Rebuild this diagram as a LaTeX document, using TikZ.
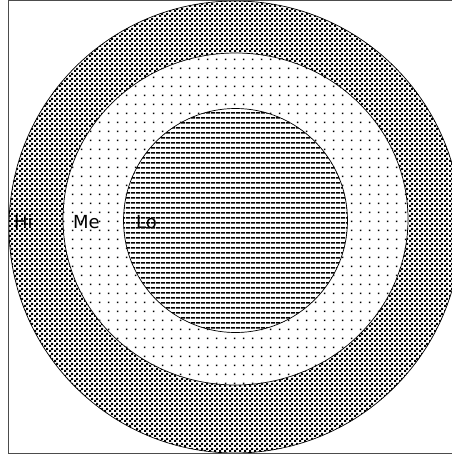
\documentclass[tikz,border=0pt]{standalone}
\usepackage{fontspec}
\setmainfont{DejaVu Sans}
\usetikzlibrary{patterns.meta}
\pgfdeclarepattern{name=chk, type=uncolored,
  bottom left={\pgfpoint{0pt}{0pt}}, top right={\pgfpoint{4.6pt}{4.6pt}},
  tile size={\pgfpoint{4.6pt}{4.6pt}},
  code={\pgfpathrectangle{\pgfpoint{0pt}{0pt}}{\pgfpoint{2.3pt}{2.3pt}}
        \pgfpathrectangle{\pgfpoint{2.3pt}{2.3pt}}{\pgfpoint{2.3pt}{2.3pt}}
        \pgfusepath{fill}}}
\pgfdeclarepattern{name=dotgrid, type=uncolored,
  bottom left={\pgfpoint{0pt}{0pt}}, top right={\pgfpoint{8.5pt}{8.5pt}},
  tile size={\pgfpoint{8.5pt}{8.5pt}},
  code={\pgfpathrectangle{\pgfpoint{4pt}{4pt}}{\pgfpoint{1.6pt}{1.6pt}}
        \pgfusepath{fill}}}
\pgfdeclarepattern{name=hlines, type=uncolored,
  bottom left={\pgfpoint{0pt}{0pt}}, top right={\pgfpoint{4.5pt}{4.5pt}},
  tile size={\pgfpoint{4.5pt}{4.5pt}},
  code={\pgfpathrectangle{\pgfpoint{0pt}{1.5pt}}{\pgfpoint{4.5pt}{1.6pt}}
        \pgfusepath{fill}}}
\tikzset{
  ring/.style={draw=black, line width=0.7pt},
  lbl/.style={font=\fontsize{18}{21}\selectfont, anchor=west, inner sep=0pt, text=black}
}
\begin{document}
\begin{tikzpicture}[x=1pt, y=-1pt]
\useasboundingbox (0,0) rectangle (452,456);
\begin{scope}
\clip (0,0) rectangle (452,456);
\fill[white] (0,0) rectangle (452,456);
\draw[ring, pattern={chk}, pattern color=black] (235,227) circle (226);
\fill[white] (235.5,219) ellipse [x radius=172.5, y radius=166];
\draw[ring, pattern={dotgrid}, pattern color=black] (235.5,219) ellipse [x radius=172.5, y radius=166];
\fill[white] (235.5,220.5) circle (112);
\draw[ring, pattern={hlines}, pattern color=black] (235.5,220.5) circle (112);
\draw[black!70, line width=0.8pt] (470,0.5) -- (8.5,0.5) -- (8.5,453) -- (470,453);
\end{scope}
\node[lbl] (hi) at (14,222) {Hi};
\node[lbl] (me) at (73,222) {Me};
\node[lbl] (lo) at (136,222) {Lo};
\end{tikzpicture}
\end{document}
